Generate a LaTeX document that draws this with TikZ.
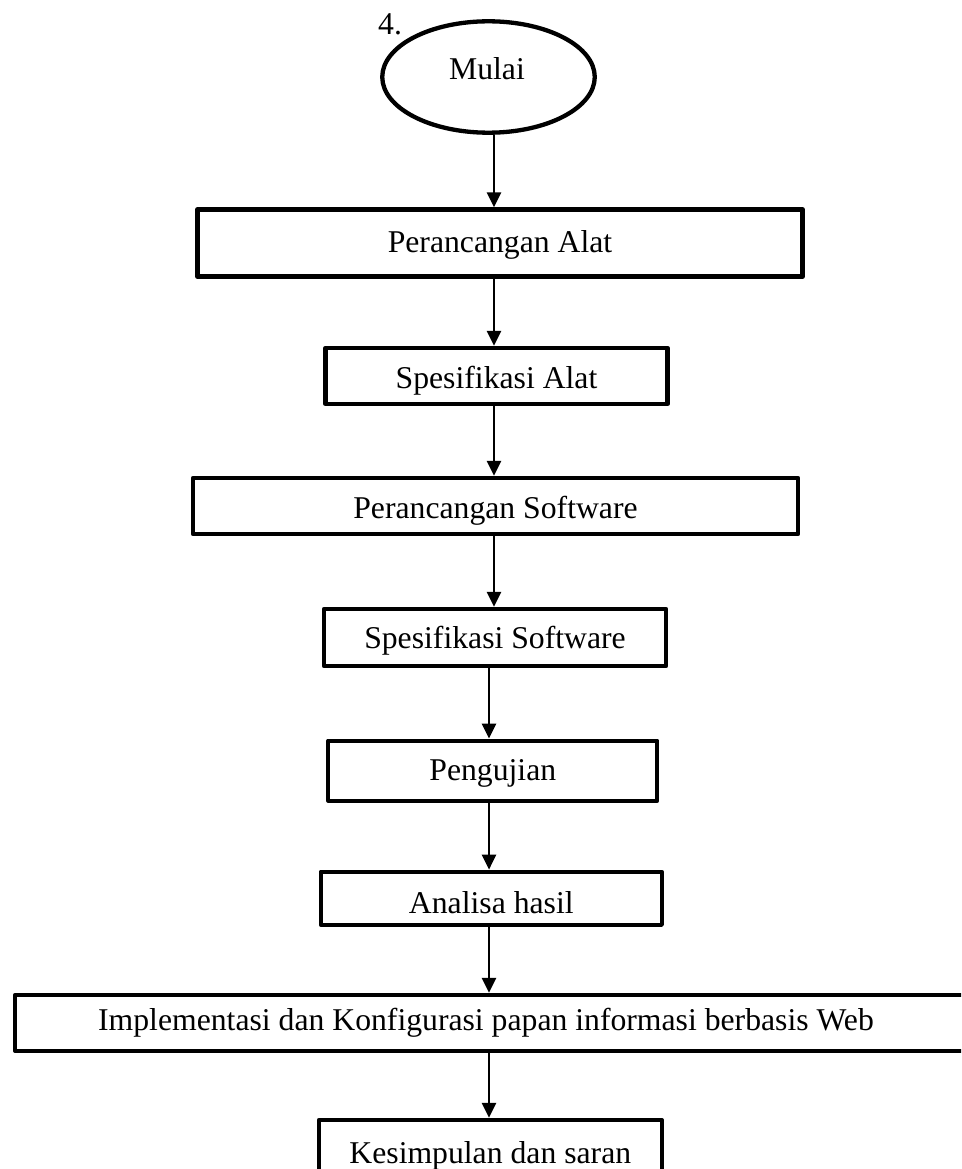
\documentclass[tikz,border=0pt]{standalone}
\usepackage{fontspec}
\setmainfont{Liberation Serif}
\usetikzlibrary{shapes.geometric,arrows.meta}
\begin{document}
\begin{tikzpicture}[x=1pt,y=-1pt,
  txtfont/.style={font=\fontsize{31.7}{38}\selectfont},
  flowbox/.style={draw, rectangle, line width=4.3pt, line join=round,
    inner sep=0pt, txtfont},
  % baseline sits #1/2 below the box centre
  baseoff/.style={text height=#1, text depth=0pt},
  startshape/.style={draw, ellipse, line width=4.3pt, inner sep=0pt},
  lbl/.style={inner sep=0pt, txtfont},
  flow/.style={line width=2.6pt, -{Triangle[length=15pt,width=14pt]}}
]
\useasboundingbox (0,0) rectangle (961,1169);
\clip (0,0) rectangle (961,1169);

% start terminal
\node[startshape, minimum width=212.5pt, minimum height=111.4pt] (start) at (488.5,77) {};
\node[lbl, anchor=base] (startlbl) at (487,80) {Mulai};
\node[lbl, anchor=base west] (num) at (378,35) {4.};

% process steps
\node[flowbox, baseoff=18pt, minimum width=605pt, minimum height=67pt] (b1) at (500,243) {Perancangan Alat};
\node[flowbox, baseoff=24pt, minimum width=342pt, minimum height=56pt] (b2) at (496.5,376) {Spesifikasi Alat};
\node[flowbox, baseoff=24pt, minimum width=605pt, minimum height=56pt] (b3) at (495.5,506) {Perancangan Software};
\node[flowbox, baseoff=21pt, minimum width=342pt, minimum height=57pt] (b4) at (495,637.5) {Spesifikasi Software};
\node[flowbox, baseoff=18.6pt, minimum width=329pt, minimum height=60pt] (b5) at (492.8,770.7) {Pengujian};
\node[flowbox, baseoff=29.4pt, minimum width=341pt, minimum height=53pt] (b6) at (491.3,898.3) {Analisa hasil};
\node[flowbox, minimum width=965pt, minimum height=55.7pt] (b7) at (497.6,1022.8) {};
\node[lbl, anchor=base] (b7lbl) at (486,1030) {Implementasi dan Konfigurasi papan informasi berbasis Web};
\node[flowbox, baseoff=14pt, minimum width=342.7pt, minimum height=72pt] (b8) at (490.3,1156) {Kesimpulan dan saran};

% connector columns
\coordinate (colA) at (494,0);
\coordinate (colB) at (489,0);

\draw[flow] (start.south -| colA) -- (b1.north -| colA);
\draw[flow] (b1.south -| colA) -- (b2.north -| colA);
\draw[flow] (b2.south -| colA) -- (b3.north -| colA);
\draw[flow] (b3.south -| colA) -- (b4.north -| colA);
\draw[flow] (b4.south -| colB) -- (b5.north -| colB);
\draw[flow] (b5.south -| colB) -- (b6.north -| colB);
\draw[flow] (b6.south -| colB) -- (b7.north -| colB);
\draw[flow] ([yshift=3pt]b7.south -| colB) -- (b8.north -| colB);
\end{tikzpicture}
\end{document}
